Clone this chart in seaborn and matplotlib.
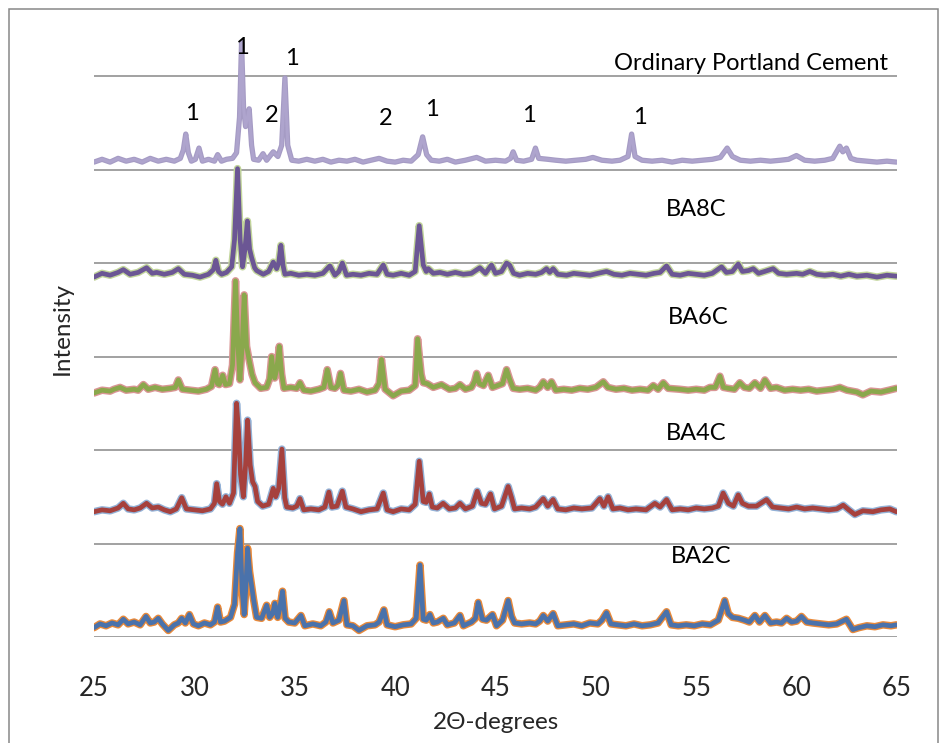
import matplotlib.pyplot as plt
import seaborn as sns
from matplotlib.patches import Rectangle

# XRD patterns; intensity in a.u. above each trace's own baseline
opc_2theta = [25.0, 25.4, 25.8, 26.2, 26.6, 27.0, 27.4, 27.8, 28.2, 28.6, 29.0, 29.3, 29.45, 29.57, 29.7, 29.85,
              30.05, 30.23, 30.4, 30.7, 31.0, 31.16, 31.35, 31.6, 31.9, 32.1, 32.25, 32.35, 32.45, 32.55, 32.73,
              32.85, 32.95, 33.2, 33.42, 33.6, 33.93, 34.16, 34.35, 34.51, 34.65, 34.85, 35.2, 35.6, 36.0, 36.4,
              36.8, 37.2, 37.6, 38.0, 38.4, 38.8, 39.2, 39.6, 40.0, 40.4, 40.8, 41.15, 41.37, 41.57, 41.8, 42.2,
              42.6, 43.0, 43.5, 44.06, 44.5, 45.0, 45.5, 45.75, 45.88, 46.05, 46.4, 46.8, 46.99, 47.15, 47.6, 48.0,
              48.5, 49.0, 49.5, 49.85, 50.3, 50.8, 51.2, 51.6, 51.78, 51.95, 52.3, 52.8, 53.3, 53.8, 54.3, 54.8,
              55.3, 55.8, 56.2, 56.54, 56.8, 57.2, 57.7, 58.2, 58.7, 59.2, 59.6, 59.99, 60.4, 60.9, 61.4, 61.8,
              62.15, 62.3, 62.48, 62.7, 63.0, 63.5, 64.0, 64.5, 64.97]
opc_int = [2, 5, 2, 6, 3, 5, 2, 6, 3, 5, 3, 6, 15, 32, 12, 3,
           5, 17, 3, 5, 3, 10, 3, 5, 6, 12, 50, 130, 60, 40, 59,
           20, 5, 4, 11, 4, 13, 8, 20, 92, 20, 4, 3, 5, 3, 5,
           2, 4, 3, 5, 2, 4, 6, 3, 2, 4, 3, 10, 29, 10, 4, 3,
           5, 2, 4, 7, 3, 4, 3, 6, 13, 4, 3, 5, 17, 6, 5, 4,
           3, 4, 5, 7, 4, 3, 4, 8, 32, 8, 4, 3, 4, 2, 4, 3,
           4, 5, 7, 17, 8, 4, 3, 4, 3, 4, 5, 9, 4, 3, 4, 6,
           19, 13, 17, 6, 4, 3, 2, 3, 2]

ba8c_2theta = [25.0, 25.4, 25.8, 26.2, 26.46, 26.8, 27.2, 27.62, 27.9, 28.12, 28.5, 28.9, 29.2, 29.5, 29.9, 30.28,
               30.7, 30.95, 31.07, 31.2, 31.36, 31.6, 31.86, 32.0, 32.15, 32.28, 32.4, 32.52, 32.64, 32.75, 32.85,
               33.0, 33.1, 33.43, 33.7, 33.93, 34.1, 34.2, 34.31, 34.42, 34.51, 34.8, 35.2, 35.6, 36.0, 36.4,
               36.75, 37.0, 37.2, 37.37, 37.58, 37.9, 38.3, 38.7, 39.1, 39.41, 39.6, 39.9, 40.3, 40.7, 41.0, 41.2,
               41.4, 41.55, 41.65, 41.9, 42.23, 42.6, 43.0, 43.4, 43.8, 44.22, 44.5, 44.8, 45.0, 45.3, 45.55, 45.7,
               45.9, 46.2, 46.6, 47.0, 47.3, 47.54, 47.7, 47.87, 48.1, 48.54, 48.9, 49.3, 49.7, 50.1, 50.53, 50.9,
               51.3, 51.7, 52.1, 52.5, 52.9, 53.2, 53.52, 53.8, 54.2, 54.6, 55.0, 55.4, 55.8, 56.26, 56.5, 56.8,
               57.09, 57.3, 57.6, 57.84, 58.1, 58.4, 58.83, 59.1, 59.5, 60.0, 60.3, 60.66, 61.0, 61.4, 61.8, 62.2,
               62.6, 63.0, 63.5, 64.0, 64.5, 64.97]
ba8c_int = [0, 4, 2, 5, 8, 3, 5, 10, 4, 5, 3, 5, 9, 3, 2, 0,
            3, 8, 18, 6, 3, 5, 11, 40, 116, 40, 11, 30, 60, 30, 21,
            10, 7, 3, 6, 16, 9, 15, 34, 12, 3, 4, 2, 3, 2, 4,
            12, 2, 6, 15, 2, 3, 2, 4, 3, 13, 3, 2, 4, 2, 6, 55,
            13, 6, 9, 4, 5, 3, 5, 3, 4, 10, 4, 13, 4, 6, 15, 13,
            4, 2, 4, 3, 5, 9, 5, 9, 3, 2, 4, 3, 2, 4, 6, 3,
            2, 4, 3, 2, 4, 5, 12, 3, 2, 4, 3, 2, 4, 11, 5, 6,
            14, 6, 7, 9, 4, 6, 9, 4, 3, 4, 3, 6, 3, 2, 3, 1,
            3, 1, 2, 0, 2, 1]

ba6c_2theta = [25.0, 25.4, 25.8, 26.0, 26.3, 26.6, 27.0, 27.2, 27.46, 27.7, 28.04, 28.4, 28.8, 29.05, 29.2, 29.4,
               29.8, 30.2, 30.6, 30.85, 31.03, 31.15, 31.24, 31.41, 31.55, 31.75, 31.9, 32.05, 32.17, 32.27, 32.38,
               32.48, 32.6, 32.73, 32.87, 33.02, 33.3, 33.6, 33.75, 33.85, 33.93, 34.0, 34.1, 34.23, 34.35, 34.46,
               34.8, 35.1, 35.26, 35.45, 35.8, 36.2, 36.45, 36.62, 36.8, 37.0, 37.15, 37.28, 37.45, 37.8, 38.2,
               38.6, 39.0, 39.2, 39.32, 39.5, 39.9, 40.3, 40.7, 41.0, 41.12, 41.3, 41.4, 41.6, 41.9, 42.31, 42.7,
               43.0, 43.23, 43.5, 43.8, 43.95, 44.06, 44.2, 44.4, 44.64, 44.85, 45.1, 45.35, 45.55, 45.7, 45.88,
               46.2, 46.6, 47.0, 47.2, 47.38, 47.6, 47.79, 48.0, 48.4, 48.8, 49.2, 49.6, 50.0, 50.37, 50.6, 51.0,
               51.4, 51.8, 52.2, 52.6, 52.86, 53.1, 53.36, 53.6, 54.18, 54.6, 55.0, 55.4, 55.68, 55.95, 56.18,
               56.35, 56.6, 56.9, 57.17, 57.4, 57.65, 57.92, 58.2, 58.42, 58.7, 59.0, 59.4, 59.8, 60.2, 60.6,
               61.0, 61.4, 61.8, 62.15, 62.5, 63.0, 63.3, 63.7, 64.2, 64.6, 64.97]
ba6c_int = [0, 3, 2, 4, 6, 3, 4, 3, 9, 4, 6, 4, 5, 6, 14, 4,
            3, 2, 4, 7, 25, 10, 9, 19, 9, 10, 30, 120, 50, 14, 50,
            105, 50, 35, 20, 11, 5, 6, 15, 39, 20, 16, 25, 50, 20, 5,
            6, 5, 11, 3, 2, 4, 6, 25, 6, 5, 8, 21, 3, 2, 4,
            1, 3, 10, 36, 4, -3, 2, 3, 8, 58, 20, 11, 10, 6, 9, 4,
            5, 9, 4, 6, 12, 21, 10, 8, 19, 6, 8, 10, 25, 15, 5,
            4, 5, 3, 6, 12, 6, 12, 3, 4, 3, 5, 4, 6, 12, 6, 4,
            5, 3, 4, 3, 8, 4, 11, 5, 4, 3, 4, 3, 6, 6, 18,
            6, 5, 4, 11, 6, 5, 11, 5, 14, 5, 6, 3, 4, 3, 4,
            2, 3, 4, 6, 3, 1, -2, 2, 1, 3, 5]

ba4c_2theta = [25.0, 25.4, 25.8, 26.2, 26.46, 26.7, 27.0, 27.3, 27.62, 27.9, 28.2, 28.5, 28.8, 29.1, 29.37, 29.6,
               30.0, 30.4, 30.8, 31.0, 31.11, 31.25, 31.4, 31.57, 31.75, 31.95, 32.1, 32.2, 32.3, 32.44, 32.55,
               32.65, 32.78, 32.9, 33.02, 33.15, 33.4, 33.7, 33.93, 34.05, 34.2, 34.36, 34.5, 34.6, 34.9, 35.1,
               35.26, 35.45, 35.8, 36.2, 36.5, 36.7, 36.85, 37.1, 37.37, 37.55, 37.9, 38.3, 38.7, 39.1, 39.41,
               39.6, 39.9, 40.3, 40.7, 41.0, 41.2, 41.4, 41.55, 41.7, 41.85, 42.1, 42.39, 42.7, 43.0, 43.23, 43.5,
               43.85, 44.09, 44.3, 44.5, 44.75, 44.95, 45.3, 45.63, 45.8, 45.95, 46.3, 46.7, 47.0, 47.38, 47.6,
               47.87, 48.1, 48.5, 48.9, 49.3, 49.8, 50.2, 50.4, 50.61, 50.85, 51.2, 51.6, 52.0, 52.5, 52.94, 53.2,
               53.52, 53.8, 54.2, 54.6, 55.0, 55.4, 55.8, 56.1, 56.34, 56.6, 56.85, 57.09, 57.3, 57.6, 58.0, 58.5,
               58.8, 59.2, 59.6, 60.0, 60.4, 60.8, 61.2, 61.6, 62.0, 62.32, 62.6, 62.9, 63.3, 63.8, 64.2, 64.64,
               64.97]
ba4c_int = [0, 2, 1, 4, 9, 3, 2, 4, 9, 4, 5, 2, 0, 3, 15, 3,
            2, 1, 3, 9, 30, 11, 8, 16, 9, 20, 116, 86, 40, 16, 50,
            98, 50, 32, 27, 11, 6, 8, 25, 16, 25, 67, 15, 5, 4, 6,
            14, 2, 3, 2, 5, 21, 5, 6, 22, 5, 3, 0, 2, 3, 20,
            2, 0, 3, 2, 8, 54, 11, 10, 19, 5, 4, 9, 3, 4, 9, 3,
            6, 22, 9, 8, 19, 3, 6, 27, 15, 3, 4, 3, 5, 14, 6,
            13, 3, 2, 4, 3, 4, 14, 6, 16, 3, 4, 2, 3, 2, 9, 5,
            13, 2, 3, 2, 4, 3, 4, 6, 20, 9, 6, 18, 9, 6, 6, 13,
            5, 4, 3, 5, 3, 4, 3, 2, 3, 7, 2, -3, 1, 0, 2, 3,
            0]

ba2c_2theta = [25.0, 25.3, 25.6, 25.9, 26.2, 26.46, 26.7, 27.0, 27.3, 27.59, 27.8, 28.0, 28.2, 28.4, 28.7, 29.0,
               29.2, 29.37, 29.55, 29.75, 29.95, 30.2, 30.5, 30.8, 31.0, 31.16, 31.3, 31.5, 31.8, 32.0, 32.15,
               32.27, 32.38, 32.48, 32.57, 32.65, 32.75, 32.85, 32.95, 33.1, 33.35, 33.6, 33.75, 33.9, 34.01,
               34.15, 34.25, 34.39, 34.52, 34.7, 35.0, 35.31, 35.5, 35.9, 36.3, 36.55, 36.72, 36.9, 37.2, 37.45,
               37.6, 37.9, 38.2, 38.6, 39.0, 39.2, 39.44, 39.6, 40.0, 40.4, 40.8, 41.05, 41.24, 41.4, 41.55, 41.73,
               41.9, 42.1, 42.4, 42.6, 42.95, 43.23, 43.4, 43.8, 44.0, 44.14, 44.35, 44.55, 44.85, 45.05, 45.35,
               45.63, 45.8, 45.95, 46.3, 46.7, 47.0, 47.2, 47.38, 47.6, 47.87, 48.1, 48.5, 48.9, 49.3, 49.7, 50.1,
               50.3, 50.53, 50.75, 51.1, 51.5, 51.9, 52.3, 52.7, 53.1, 53.52, 53.75, 54.1, 54.5, 54.9, 55.3, 55.7,
               56.1, 56.42, 56.6, 56.8, 57.1, 57.4, 57.65, 57.92, 58.15, 58.42, 58.7, 59.0, 59.25, 59.5, 59.75,
               60.0, 60.24, 60.5, 60.8, 61.2, 61.6, 62.0, 62.48, 62.8, 63.1, 63.5, 63.9, 64.3, 64.7, 64.97]
ba2c_int = [0, 4, 2, 5, 3, 9, 4, 6, 3, 12, 5, 6, 10, 4, -3, 3,
            5, 10, 5, 14, 4, 2, 5, 3, 6, 22, 6, 7, 11, 25, 80,
            106, 40, 14, 45, 85, 60, 45, 30, 11, 10, 24, 11, 15, 26,
            11, 20, 39, 10, 6, 5, 13, 2, 4, 2, 6, 17, 5, 8, 29,
            3, 2, -3, 2, 3, 6, 19, 3, 1, 3, 4, 10, 67, 9, 8, 14,
            5, 6, 10, 3, 5, 13, 2, 6, 10, 27, 9, 8, 14, 2, 8,
            29, 12, 5, 4, 5, 4, 7, 13, 7, 15, 2, 3, 4, 2, 5, 4,
            8, 16, 4, 3, 2, 4, 2, 3, 5, 17, 3, 2, 3, 2, 4, 3,
            8, 29, 15, 11, 10, 8, 6, 13, 6, 13, 5, 6, 5, 10, 6,
            7, 12, 6, 5, 4, 3, 4, 9, -2, 0, 2, 1, 3, 2, 3]

samples = ["BA2C", "BA4C", "BA6C", "BA8C", "Ordinary Portland Cement"]
offsets = [10, 134, 261, 385, 506]
trace_x = [ba2c_2theta, ba4c_2theta, ba6c_2theta, ba8c_2theta, opc_2theta]
trace_y = [ba2c_int, ba4c_int, ba6c_int, ba8c_int, opc_int]

# (outer halo colour, inner line colour, outer width, inner width)
line_styles = [("#e8893a", "#4a72ab", 5.4, 3.4), ("#93b1d6", "#a6413d", 5.4, 3.4),
               ("#d99594", "#8aa84c", 5.4, 3.4), ("#c2d59b", "#6b5694", 5.4, 3.4),
               ("#a59bc4", "#aea4cd", 3.8, 2.2)]

peak_labels = ["1", "1", "1", "2", "2", "1", "1", "1"]
peak_pos = [(29.88, 560), (32.37, 631), (34.86, 619), (33.87, 558),
            (39.55, 555), (41.84, 564), (46.67, 558), (52.2, 556)]
sample_label_pos = [(55.24, 86), (55.02, 218), (55.1, 342), (55.02, 457), (57.73, 614)]

sns.set_theme(style="white")
plt.rcParams["font.family"] = ["Lato", "DejaVu Sans"]

fig = plt.figure(figsize=(9.45, 7.43), dpi=100)
ax = fig.add_axes([94 / 945, 106 / 743, 803 / 945, 617 / 743])

for xs, ys, off, (outer, inner, w_out, w_in) in zip(trace_x, trace_y, offsets, line_styles):
    shifted = [v + off for v in ys]
    sns.lineplot(x=xs, y=shifted, sort=False, estimator=None, color=outer,
                 linewidth=w_out, ax=ax, solid_joinstyle="round")
    sns.lineplot(x=xs, y=shifted, sort=False, estimator=None, color=inner,
                 linewidth=w_in, ax=ax, solid_joinstyle="round")

for text, (x, y) in zip(peak_labels, peak_pos):
    ax.text(x, y, text, fontsize=17, ha="center", va="center", color="black")
for text, (x, y) in zip(samples, sample_label_pos):
    ax.text(x, y, text, fontsize=17, ha="center", va="center", color="black")

ax.set_xlim(25, 65)
ax.set_ylim(0, 660)
ax.set_xticks(range(25, 66, 5))
ax.set_yticks(range(0, 601, 100))
ax.set_yticklabels([])
ax.grid(axis="y", color="#878787", linewidth=1.1)
ax.grid(axis="x", visible=False)
ax.tick_params(axis="x", length=0, pad=28, labelsize=18.5)
ax.tick_params(axis="y", length=0)
for side in ["top", "right", "left", "bottom"]:
    ax.spines[side].set_visible(False)
ax.set_xlabel("2Θ-degrees", fontsize=17.5, labelpad=8)
ax.set_ylabel("Intensity", fontsize=17.5, labelpad=12)

fig.patches.append(Rectangle((9 / 945, -0.05), 929 / 945, 1.05 - 9 / 743,
                             transform=fig.transFigure, fill=False,
                             edgecolor="#878787", linewidth=1.1))

fig.savefig("out.png", dpi=100)
